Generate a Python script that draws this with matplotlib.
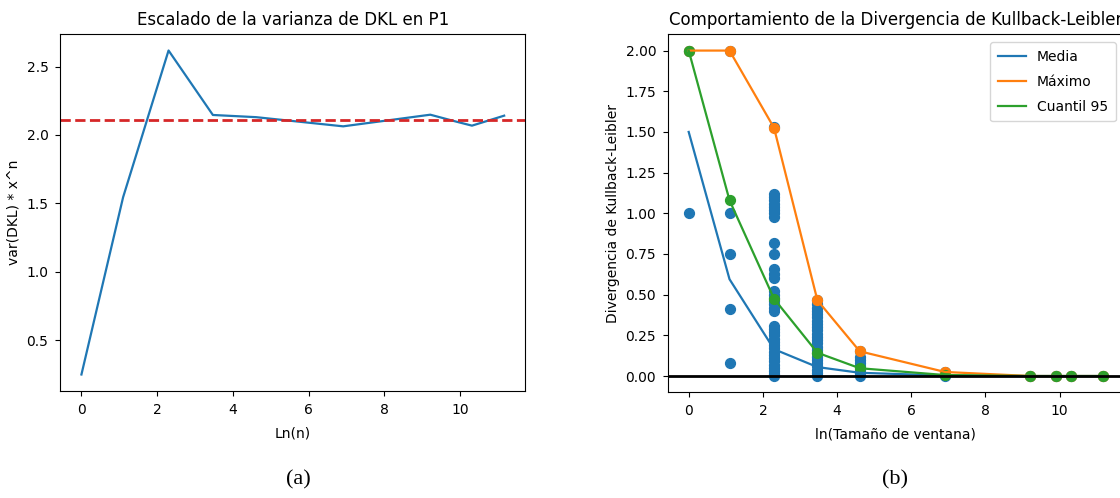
import matplotlib
matplotlib.use("Agg")
import matplotlib.pyplot as plt

# ---------------- data ----------------
# Left panel: var(DKL) * x^n vs Ln(n)
ln_n = [0.0, 1.10, 2.30, 3.47, 4.61, 6.91, 9.21, 9.90, 10.31, 11.16]
var_scaled = [0.25, 1.545, 2.617, 2.146, 2.13, 2.063, 2.148, 2.097, 2.068, 2.141]
ref_level = 2.112

# Right panel: KL divergence vs ln(window size)
ln_window = [0.0, 1.10, 2.30, 3.47, 4.61, 6.91, 9.21, 9.90, 10.31, 11.16]
media = [1.50, 0.595, 0.165, 0.055, 0.02, 0.003, 0.0, 0.0, 0.0, 0.0]
maximo = [2.00, 2.00, 1.525, 0.465, 0.152, 0.025, 0.0, 0.0, 0.0, 0.0]
cuantil95 = [2.00, 1.08, 0.475, 0.143, 0.048, 0.006, 0.0, 0.0, 0.0, 0.0]

# individual divergence values per window size
vals_w0 = [1.0, 2.0]
vals_w1 = [2.0, 1.0, 0.75, 0.41, 0.08]
vals_w2 = [1.53, 1.12, 1.10, 1.08, 1.06, 1.04, 1.02, 1.00, 0.98,
           0.82, 0.75, 0.66, 0.63, 0.60,
           0.52, 0.50, 0.48, 0.46, 0.44, 0.42, 0.40,
           0.31, 0.29, 0.27, 0.25, 0.23, 0.21, 0.19, 0.17, 0.15,
           0.13, 0.11, 0.09, 0.07, 0.05, 0.03, 0.01, 0.00]
vals_w3 = [0.465, 0.44, 0.42, 0.40, 0.38, 0.36, 0.34, 0.32, 0.30, 0.28,
           0.26, 0.24, 0.22, 0.20, 0.18, 0.16, 0.14, 0.12, 0.10, 0.08,
           0.06, 0.04, 0.02, 0.00]
vals_w4 = [0.152, 0.12, 0.10, 0.08, 0.06, 0.04, 0.02, 0.00]
vals_w5 = [0.025, 0.0]
vals_w6 = [0.0]
vals_w7 = [0.0]
vals_w8 = [0.0]
vals_w9 = [0.0]
all_vals = [vals_w0, vals_w1, vals_w2, vals_w3, vals_w4,
            vals_w5, vals_w6, vals_w7, vals_w8, vals_w9]

left_xticks = [0, 2, 4, 6, 8, 10]
left_yticks = [0.5, 1.0, 1.5, 2.0, 2.5]
right_yticks = [0.00, 0.25, 0.50, 0.75, 1.00, 1.25, 1.50, 1.75, 2.00]

# ---------------- figure ----------------
W, H = 1120, 498
fig = plt.figure(figsize=(W / 100, H / 100), dpi=100)


def px_axes(x0, y0, x1, y1):
    return fig.add_axes([x0 / W, 1 - y1 / H, (x1 - x0) / W, (y1 - y0) / H])


blue, orange, green = "#1f77b4", "#ff7f0e", "#2ca02c"

# Left panel
ax1 = px_axes(60.3, 34.3, 525.3, 390.7)
ax1.plot(ln_n, var_scaled, color=blue, lw=1.6)
ax1.axhline(ref_level, color="#d62728", ls="--", lw=2)
ax1.set_title("Escalado de la varianza de DKL en P1", fontsize=12, pad=7)
ax1.set_xlabel("Ln(n)", fontsize=10, labelpad=7)
ax1.set_ylabel("var(DKL) * x^n", fontsize=10)
ax1.set_xticks(left_xticks)
ax1.set_yticks(left_yticks)
ax1.tick_params(labelsize=10, pad=5)

# Right panel
ax2 = px_axes(668.0, 34.3, 1123.4, 392.3)
for xv, vals in zip(ln_window, all_vals):
    ax2.scatter([xv] * len(vals), vals, color=blue, s=50)
ax2.scatter(ln_window, maximo, color=orange, s=50)
ax2.scatter(ln_window, cuantil95, color=green, s=50)
ax2.plot(ln_window, media, color=blue, lw=1.6, label="Media")
ax2.plot(ln_window, maximo, color=orange, lw=1.6, label="Máximo")
ax2.plot(ln_window, cuantil95, color=green, lw=1.6, label="Cuantil 95")
ax2.axhline(0, color="black", lw=2)
ax2.set_title("Comportamiento de la Divergencia de Kullback-Leibler",
              fontsize=12, pad=7)
ax2.set_xlabel("ln(Tamaño de ventana)", fontsize=10, labelpad=7)
ax2.set_ylabel("Divergencia de Kullback-Leibler", fontsize=10)
ax2.set_xticks(left_xticks)
ax2.set_yticks(right_yticks)
ax2.tick_params(labelsize=10, pad=5)
ax2.legend(loc="upper right", fontsize=10, labelspacing=0.8,
           borderpad=0.55, borderaxespad=0.55)

fig.text(298 / W, 1 - 480 / H, "(a)", ha="center", va="center",
         fontsize=16, family=["Liberation Serif", "DejaVu Serif"])
fig.text(894.7 / W, 1 - 480 / H, "(b)", ha="center", va="center",
         fontsize=16, family=["Liberation Serif", "DejaVu Serif"])

fig.savefig("out.png", dpi=100)
